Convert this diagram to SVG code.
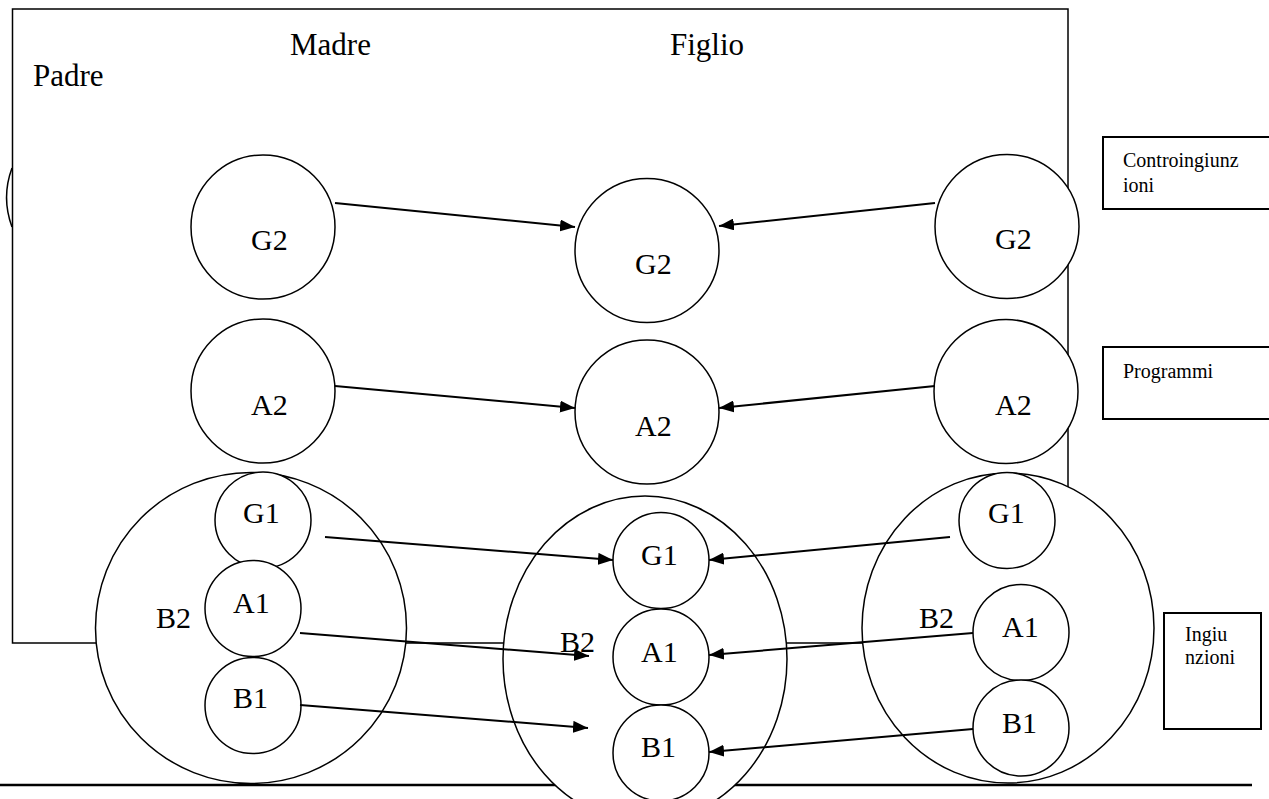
<svg xmlns="http://www.w3.org/2000/svg" width="1269" height="799" viewBox="0 0 1269 799">
<style>
.t{font-family:"Liberation Serif","Times New Roman",serif;font-size:30px;fill:#000}
.h{font-family:"Liberation Serif","Times New Roman",serif;font-size:31px;fill:#000}
.s{font-family:"Liberation Serif","Times New Roman",serif;font-size:20px;fill:#000}
.c{fill:#fff;stroke:#000;stroke-width:1.5}
.b{fill:#fff;stroke:#000;stroke-width:2}
.e{stroke:#000;stroke-width:2;fill:none;marker-end:url(#ah)}
</style>
<defs>
<marker id="ah" markerUnits="userSpaceOnUse" markerWidth="16" markerHeight="12" refX="15" refY="6" orient="auto">
<path d="M0,0 L15,6 L0,12 z" fill="#000"/>
</marker>
</defs>
<rect width="1269" height="799" fill="#fff"/>
<g id="frame">
<path d="M12,168 A85,85 0 0 0 12,227" fill="none" stroke="#000" stroke-width="1.5"/>
<rect x="12.5" y="9" width="1055.5" height="634" fill="none" stroke="#000" stroke-width="1.5"/>
<line x1="0" y1="785" x2="1252" y2="785" stroke="#000" stroke-width="2.5"/>
<text class="h" x="33" y="86">Padre</text>
<text class="h" x="290" y="55">Madre</text>
<text class="h" x="670" y="55">Figlio</text>
</g>
<g id="box-controingiunzioni">
<rect class="b" x="1103" y="137" width="170" height="72"/>
<text class="s" x="1123" y="167">Controingiunz</text>
<text class="s" x="1123" y="192">ioni</text>
</g>
<g id="box-programmi">
<rect class="b" x="1103" y="347" width="170" height="72"/>
<text class="s" x="1123" y="378">Programmi</text>
</g>
<g id="box-ingiunzioni">
<rect class="b" x="1164" y="613" width="97" height="116"/>
<text class="s" x="1185" y="641">Ingiu</text>
<text class="s" x="1185" y="664">nzioni</text>
</g>
<g id="madre-G2"><circle class="c" cx="263" cy="227" r="72"/><text class="t" x="251" y="250">G2</text></g>
<g id="madre-A2"><circle class="c" cx="263" cy="391" r="72"/><text class="t" x="251" y="415">A2</text></g>
<g id="figlio-G2"><circle class="c" cx="647" cy="250.5" r="72"/><text class="t" x="635" y="274">G2</text></g>
<g id="figlio-A2"><circle class="c" cx="647" cy="412" r="72"/><text class="t" x="635" y="436">A2</text></g>
<g id="padre-G2"><circle class="c" cx="1007" cy="226.5" r="72"/><text class="t" x="995" y="249">G2</text></g>
<g id="padre-A2"><circle class="c" cx="1006" cy="391.5" r="72"/><text class="t" x="995" y="415">A2</text></g>
<g id="madre-B2">
<circle class="c" cx="251" cy="628" r="155.5"/>
<text class="t" x="156" y="628">B2</text>
<circle class="c" cx="263" cy="520" r="48"/><text class="t" x="243" y="523">G1</text>
<circle class="c" cx="253" cy="608.5" r="48"/><text class="t" x="233" y="613">A1</text>
<circle class="c" cx="253" cy="705.5" r="48"/><text class="t" x="233" y="708">B1</text>
</g>
<g id="figlio-B2">
<ellipse class="c" cx="645" cy="659" rx="142" ry="163"/>
<text class="t" x="560" y="652">B2</text>
<circle class="c" cx="661" cy="560.5" r="48"/><text class="t" x="641" y="565">G1</text>
<circle class="c" cx="661" cy="657" r="48"/><text class="t" x="641" y="662">A1</text>
<circle class="c" cx="661" cy="753" r="48"/><text class="t" x="641" y="757">B1</text>
</g>
<g id="padre-B2">
<ellipse class="c" cx="1008" cy="628" rx="146" ry="155"/>
<text class="t" x="919" y="628">B2</text>
<circle class="c" cx="1007" cy="520.5" r="48"/><text class="t" x="988" y="523">G1</text>
<circle class="c" cx="1021" cy="632.5" r="48"/><text class="t" x="1002" y="637">A1</text>
<circle class="c" cx="1021" cy="728" r="48"/><text class="t" x="1002" y="733">B1</text>
</g>
<g id="connectors">
<line class="e" x1="335" y1="203" x2="575" y2="227"/>
<line class="e" x1="935" y1="203" x2="719" y2="226"/>
<line class="e" x1="335" y1="386" x2="575" y2="408"/>
<line class="e" x1="935" y1="386" x2="719" y2="408"/>
<line class="e" x1="325" y1="537" x2="613" y2="560"/>
<line class="e" x1="950" y1="537" x2="709" y2="560"/>
<line class="e" x1="300" y1="633" x2="589" y2="656"/>
<line class="e" x1="973" y1="633" x2="709" y2="655"/>
<line class="e" x1="300" y1="705" x2="588" y2="728"/>
<line class="e" x1="973" y1="729" x2="709" y2="752"/>
</g>
</svg>
